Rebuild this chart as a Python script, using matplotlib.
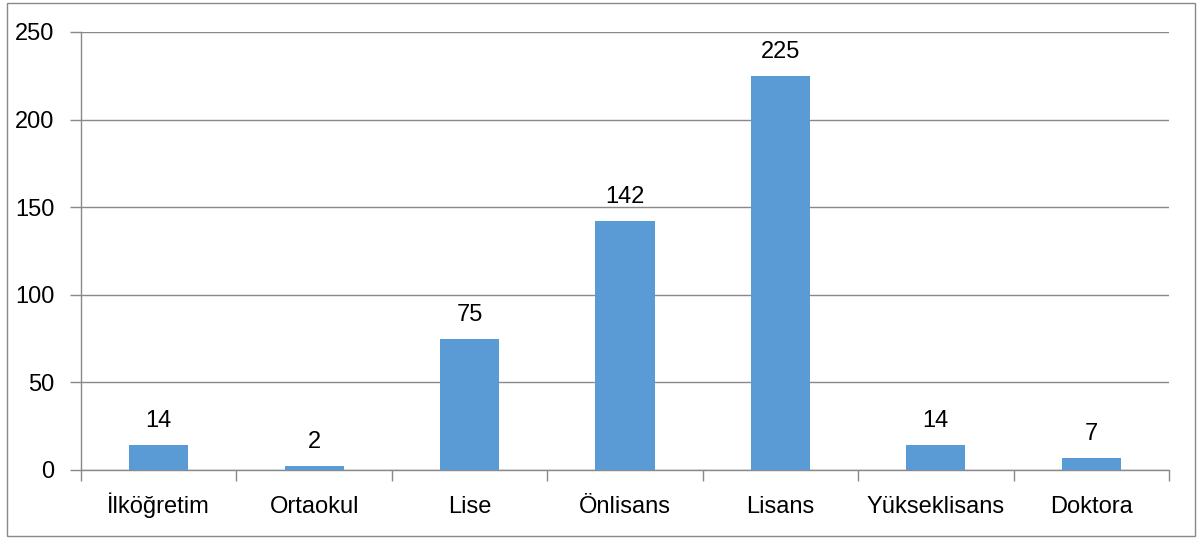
import matplotlib.pyplot as plt
from matplotlib.patches import Rectangle

categories = ["İlköğretim", "Ortaokul", "Lise", "Önlisans", "Lisans",
              "Yükseklisans", "Doktora"]
values = [14, 2, 75, 142, 225, 14, 7]
yticks = [0, 50, 100, 150, 200, 250]

GRAY = "#898989"
BLUE = "#5B9BD5"


def main():
    plt.rcParams.update({"font.family": ["Liberation Sans", "DejaVu Sans"],
                         "font.size": 17})
    fig = plt.figure(figsize=(12.03, 5.39), dpi=100)
    ax = fig.add_axes([81 / 1203, 1 - 470 / 539, 1088 / 1203, 438 / 539])

    x = list(range(len(categories)))
    bars = ax.bar(x, values, width=0.38, color=BLUE, zorder=3)
    for b, v in zip(bars, values):
        ax.annotate(str(v), (b.get_x() + b.get_width() / 2, v),
                    xytext=(0, 13), textcoords="offset points",
                    ha="center", va="baseline", fontsize=17)

    ax.set_xlim(-0.5, len(categories) - 0.5)
    ax.set_ylim(0, 250)
    ax.set_yticks(yticks)
    ax.yaxis.grid(True, color=GRAY, linewidth=1)
    ax.set_axisbelow(True)

    ax.set_xticks(x)
    ax.set_xticklabels(categories, va="baseline")
    ax.set_xticks([i - 0.5 for i in range(len(categories) + 1)], minor=True)
    ax.tick_params(axis="x", which="major", length=0, pad=31)
    ax.tick_params(axis="x", which="minor", length=8, color=GRAY, width=1)
    ax.tick_params(axis="y", length=8, color=GRAY, width=1, pad=11)

    for s in ["top", "right"]:
        ax.spines[s].set_visible(False)
    for s in ["left", "bottom"]:
        ax.spines[s].set_color(GRAY)
        ax.spines[s].set_linewidth(1)

    fig.patches.append(Rectangle((7 / 1203, 3 / 539), 1188 / 1203, 533 / 539,
                                 transform=fig.transFigure, fill=False,
                                 edgecolor=GRAY, linewidth=1))

    plt.savefig("out.png", dpi=100)


if __name__ == "__main__":
    main()
